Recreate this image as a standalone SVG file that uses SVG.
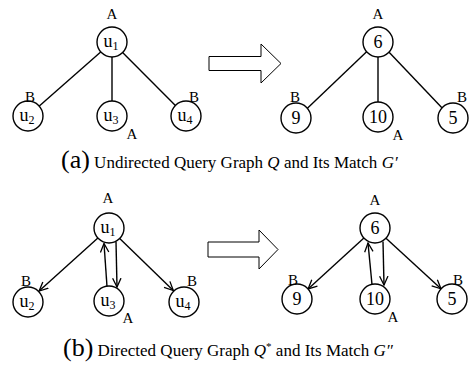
<svg xmlns="http://www.w3.org/2000/svg" width="470" height="366" viewBox="0 0 470 366">
  <defs>
    <style>
      .node circle { fill: #fff; stroke: #000; stroke-width: 1.4; }
      .node text { font-family: "Liberation Serif", "Times New Roman", serif; fill: #000; text-anchor: middle; }
      .num { font-size: 18px; }
      .uname { font-size: 18px; }
      .sub { font-size: 12px; }
      .lbl { font-family: "Liberation Serif", "Times New Roman", serif; font-size: 15px; fill: #000; text-anchor: middle; }
      .edges line { stroke: #000; stroke-width: 1.4; }
      .bigarrow { fill: #fff; stroke: #000; stroke-width: 1; }
      .cap { font-family: "Liberation Serif", "Times New Roman", serif; font-size: 17px; fill: #000; }
      .capletter { font-size: 26px; }
    </style>
    <marker id="open" viewBox="0 0 10 10" refX="9.3" refY="5" markerWidth="10" markerHeight="10" markerUnits="userSpaceOnUse" orient="auto">
      <path d="M0.5,0.8 L9.3,5 L0.5,9.2" fill="none" stroke="#000" stroke-width="1.3"/>
    </marker>
  </defs>

  <!-- (a) undirected query graph -->
  <g id="edges-a-query" class="edges">
    <line x1="100.7" y1="51.9" x2="39.3" y2="106.1"/>
    <line x1="112" y1="57" x2="112" y2="101"/>
    <line x1="122.6" y1="52.6" x2="175.4" y2="105.4"/>
  </g>
  <g id="qa-u1" class="node"><circle cx="112" cy="42" r="15"/><text x="111" y="47" class="uname">u<tspan class="sub" dy="3">1</tspan></text></g>
  <g id="qa-u2" class="node"><circle cx="28" cy="116" r="15"/><text x="27" y="121" class="uname">u<tspan class="sub" dy="3">2</tspan></text></g>
  <g id="qa-u3" class="node"><circle cx="112" cy="116" r="15"/><text x="111" y="121" class="uname">u<tspan class="sub" dy="3">3</tspan></text></g>
  <g id="qa-u4" class="node"><circle cx="186" cy="116" r="15"/><text x="185" y="121" class="uname">u<tspan class="sub" dy="3">4</tspan></text></g>
  <g id="labels-a-query">
    <text class="lbl" x="112" y="19">A</text>
    <text class="lbl" x="30" y="102">B</text>
    <text class="lbl" x="194" y="102">B</text>
    <text class="lbl" x="132" y="139">A</text>
  </g>

  <!-- block arrow (a) -->
  <polygon class="bigarrow" points="209,56.5 261,56.5 261,44 281,63.5 261,83 261,70.5 209,70.5"/>

  <!-- (a) match G' -->
  <g id="edges-a-match" class="edges">
    <line x1="366.6" y1="51.7" x2="307.4" y2="108.3"/>
    <line x1="378" y1="57" x2="378" y2="102"/>
    <line x1="389.1" y1="52.2" x2="441.9" y2="107.8"/>
  </g>
  <g id="ga-6" class="node"><circle cx="378" cy="42" r="15"/><text x="378" y="48" class="num">6</text></g>
  <g id="ga-9" class="node"><circle cx="296" cy="118" r="15"/><text x="296" y="124" class="num">9</text></g>
  <g id="ga-10" class="node"><circle cx="378" cy="117" r="15"/><text x="378" y="123" class="num">10</text></g>
  <g id="ga-5" class="node"><circle cx="453" cy="118" r="15"/><text x="453" y="124" class="num">5</text></g>
  <g id="labels-a-match">
    <text class="lbl" x="378" y="19">A</text>
    <text class="lbl" x="295" y="102">B</text>
    <text class="lbl" x="462" y="102">B</text>
    <text class="lbl" x="398" y="140">A</text>
  </g>

  <text class="cap" x="61" y="168"><tspan class="capletter">(a)</tspan> Undirected Query Graph <tspan font-style="italic">Q</tspan> and Its Match <tspan font-style="italic">G′</tspan></text>

  <!-- (b) directed query graph -->
  <g id="edges-b-query" class="edges">
    <line x1="97.9" y1="238.1" x2="39.1" y2="291" marker-end="url(#open)"/>
    <line x1="119.7" y1="238.5" x2="173.3" y2="290.5" marker-end="url(#open)"/>
    <line x1="107" y1="286.5" x2="104" y2="243.5" marker-end="url(#open)"/>
    <line x1="116" y1="241.5" x2="117" y2="287" marker-end="url(#open)"/>
  </g>
  <g id="qb-u1" class="node"><circle cx="109" cy="228" r="15"/><text x="108" y="233" class="uname">u<tspan class="sub" dy="3">1</tspan></text></g>
  <g id="qb-u2" class="node"><circle cx="28" cy="302" r="15"/><text x="27" y="307" class="uname">u<tspan class="sub" dy="3">2</tspan></text></g>
  <g id="qb-u3" class="node"><circle cx="109" cy="301" r="15"/><text x="108" y="306" class="uname">u<tspan class="sub" dy="3">3</tspan></text></g>
  <g id="qb-u4" class="node"><circle cx="184" cy="302" r="15"/><text x="183" y="307" class="uname">u<tspan class="sub" dy="3">4</tspan></text></g>
  <g id="labels-b-query">
    <text class="lbl" x="108" y="203">A</text>
    <text class="lbl" x="26" y="286">B</text>
    <text class="lbl" x="192" y="286">B</text>
    <text class="lbl" x="128" y="323">A</text>
  </g>

  <!-- block arrow (b) -->
  <polygon class="bigarrow" points="208,242 259,242 259,230 278,249.5 259,269 259,257 208,257"/>

  <!-- (b) match G'' -->
  <g id="edges-b-match" class="edges">
    <line x1="363.9" y1="238.1" x2="308.1" y2="288.9" marker-end="url(#open)"/>
    <line x1="386" y1="238.2" x2="441" y2="288.8" marker-end="url(#open)"/>
    <line x1="372" y1="284.5" x2="368" y2="243" marker-end="url(#open)"/>
    <line x1="383" y1="241.5" x2="384" y2="285" marker-end="url(#open)"/>
  </g>
  <g id="gb-6" class="node"><circle cx="375" cy="228" r="15"/><text x="375" y="234" class="num">6</text></g>
  <g id="gb-9" class="node"><circle cx="297" cy="299" r="15"/><text x="297" y="305" class="num">9</text></g>
  <g id="gb-10" class="node"><circle cx="375" cy="299" r="15"/><text x="375" y="305" class="num">10</text></g>
  <g id="gb-5" class="node"><circle cx="452" cy="299" r="15"/><text x="452" y="305" class="num">5</text></g>
  <g id="labels-b-match">
    <text class="lbl" x="375" y="205">A</text>
    <text class="lbl" x="293" y="285">B</text>
    <text class="lbl" x="458" y="285">B</text>
    <text class="lbl" x="393" y="322">A</text>
  </g>

  <text class="cap" x="63" y="356"><tspan class="capletter">(b)</tspan> Directed Query Graph <tspan font-style="italic">Q</tspan><tspan font-size="11" dy="-6">*</tspan><tspan dy="6"> and Its Match </tspan><tspan font-style="italic">G″</tspan></text>
</svg>
